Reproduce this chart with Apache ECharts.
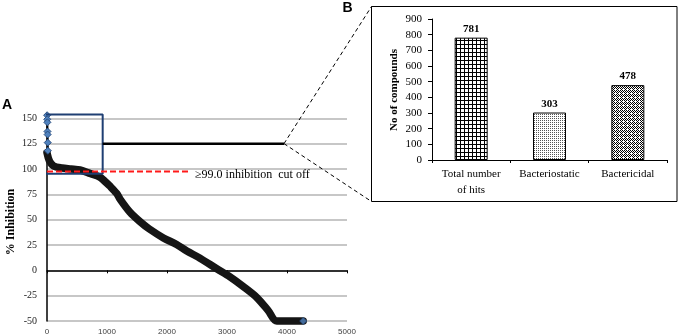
<!DOCTYPE html>
<html><head><meta charset="utf-8">
<script src="https://cdn.jsdelivr.net/npm/echarts@6/dist/echarts.min.js"></script>
<style>html,body{margin:0;padding:0;background:#fff}#c{width:680px;height:336px}</style>
</head><body><div id="c"></div>
<script>
// ---- Panel A data ----
const curveX = [0, 40, 110, 250, 400, 550, 720, 880, 960, 1050, 1160, 1220, 1380, 1550, 1700, 1940, 2160, 2330, 2550, 2830, 3050, 3270, 3500, 3690, 3830, 4270];
const curveY = [116, 108, 103, 101, 100, 99, 95.5, 92, 88, 83, 76, 70, 57.5, 48, 41, 32, 25.5, 19, 12, 1.5, -6.5, -16, -27, -40, -50, -50];
const outlierX = [2, 4, 6, 8, 10, 12, 14];
const outlierY = [153, 149, 146, 137, 134, 126, 118];
const lastPointX = [4270];
const lastPointY = [-50];
const cutoffX = [0, 2350];
const cutoffY = [97.5, 97.5];
const cutoffText = '≥99.0 inhibition  cut off';
const boxX = [-40, 928, 928, -40, -40];
const boxY = [153.8, 153.8, 95.2, 95.2, 153.8];
const connX = [928, 3950];
const connY = [125, 125];
// ---- Panel B data ----
const categories = ['Total number\nof hits', 'Bacteriostatic', 'Bactericidal'];
const counts = [781, 303, 478];

const zip = (a, b) => a.map((v, i) => [v, b[i]]);
const SERIF = '"Liberation Serif","Times New Roman",serif';
const SANS = '"Liberation Sans",Arial,sans-serif';

function pat(w, h, pts, col) {
  const c = document.createElement('canvas'); c.width = w; c.height = h;
  const g = c.getContext('2d'); g.fillStyle = '#fff'; g.fillRect(0, 0, w, h);
  g.fillStyle = col || '#000';
  pts.forEach(p => g.fillRect(p[0], p[1], p[2] || 1, p[3] || 1));
  return { image: c, repeat: 'repeat' };
}
const gridPat = pat(4, 4, [[0, 0, 4, 1], [0, 0, 1, 4]], '#000');
const lightPat = pat(2, 2, [[0, 0]], '#555');
const densePat = pat(4, 4, [[0,0],[2,0],[1,1],[0,2],[2,2],[3,3],[1,3]], '#000');
const patterns = [gridPat, lightPat, densePat];

const chart = echarts.init(document.getElementById('c'), null, { renderer: 'canvas' });
const option = {
  backgroundColor: '#fff',
  animation: false,
  grid: [
    { left: 47, right: 333, top: 118.3, bottom: 7.3 },
    { left: 432, right: 13, top: 19, bottom: 176 }
  ],
  xAxis: [
    { gridIndex: 0, type: 'value', min: 0, max: 5000, interval: 1000,
      axisLine: { onZero: true, lineStyle: { color: '#000', width: 1.5 } },
      axisTick: { show: true, length: 3, lineStyle: { color: '#000' } },
      axisLabel: { fontSize: 8, fontFamily: SANS, color: '#404040', margin: 7, formatter: v => String(v) },
      splitLine: { show: false } },
    { gridIndex: 1, type: 'category', data: categories,
      axisLine: { lineStyle: { color: '#000', width: 1 } },
      axisTick: { show: true, length: 3, lineStyle: { color: '#000' } },
      axisLabel: { interval: 0, fontSize: 11, fontFamily: SERIF, color: '#000', margin: 6, lineHeight: 16 } }
  ],
  yAxis: [
    { gridIndex: 0, type: 'value', min: -50, max: 150, interval: 25,
      axisLine: { show: true, onZero: false, lineStyle: { color: '#000', width: 1.5 } },
      axisTick: { show: false },
      axisLabel: { fontSize: 10, fontFamily: SERIF, color: '#222', margin: 10 },
      splitLine: { show: true, lineStyle: { color: '#b4b4b4', width: 1.5 } } },
    { gridIndex: 1, type: 'value', min: 0, max: 900, interval: 100,
      axisLine: { show: true, lineStyle: { color: '#000', width: 1 } },
      axisTick: { show: true, length: 4, lineStyle: { color: '#000' } },
      axisLabel: { fontSize: 11, fontFamily: SERIF, color: '#000', margin: 10 },
      splitLine: { show: false } }
  ],
  series: [
    { name: 'curve', type: 'line', xAxisIndex: 0, yAxisIndex: 0, data: zip(curveX, curveY),
      symbol: 'none', smooth: 0.3, clip: false, z: 3,
      lineStyle: { color: '#151515', width: 7.5, cap: 'round', join: 'round' } },
    { name: 'top', type: 'line', xAxisIndex: 0, yAxisIndex: 0, data: zip(outlierX, outlierY),
      symbol: 'diamond', symbolSize: 7, clip: false, z: 4,
      lineStyle: { color: '#000', width: 2 },
      itemStyle: { color: '#4f81bd', borderColor: '#2b4f80', borderWidth: 1 } },
    { name: 'last', type: 'scatter', xAxisIndex: 0, yAxisIndex: 0, data: zip(lastPointX, lastPointY),
      symbol: 'diamond', symbolSize: 7, clip: false, z: 4,
      itemStyle: { color: '#4f81bd', borderColor: '#2b4f80', borderWidth: 1 } },
    { name: 'box', type: 'line', xAxisIndex: 0, yAxisIndex: 0, data: zip(boxX, boxY),
      symbol: 'none', clip: false, z: 5,
      lineStyle: { color: '#1f3f73', width: 2 } },
    { name: 'conn', type: 'line', xAxisIndex: 0, yAxisIndex: 0, data: zip(connX, connY),
      symbol: 'none', clip: false, z: 5,
      lineStyle: { color: '#000', width: 2.5 } },
    { name: 'cutoff', type: 'line', xAxisIndex: 0, yAxisIndex: 0, data: zip(cutoffX, cutoffY),
      symbol: 'none', clip: false, z: 6,
      lineStyle: { color: '#ff1a1a', width: 2, type: [6, 3] },
      endLabel: { show: true, formatter: cutoffText, fontFamily: SERIF, fontSize: 12, color: '#000', distance: 7, offset: [0, 3] } },
    { name: 'hits', type: 'bar', xAxisIndex: 1, yAxisIndex: 1, barWidth: 33,
      data: counts.map((v, i) => ({ value: v, itemStyle: { color: patterns[i] } })),
      itemStyle: { borderColor: '#000', borderWidth: 1 },
      label: { show: true, position: 'top', distance: 3, fontFamily: SERIF, fontSize: 11, fontWeight: 'bold', color: '#000' } }
  ],
  graphic: [
    { id: 'labA', type: 'text', x: 7, y: 105.5, style: { text: 'A', font: 'bold 14px ' + SANS, fill: '#000', align: 'center', verticalAlign: 'middle' } },
    { id: 'labB', type: 'text', x: 347.5, y: 8.5, style: { text: 'B', font: 'bold 14px ' + SANS, fill: '#000', align: 'center', verticalAlign: 'middle' } },
    { id: 'nameA', type: 'text', x: 11, y: 222, rotation: Math.PI / 2, style: { text: '% Inhibition', font: 'bold 12px ' + SERIF, fill: '#000', align: 'center', verticalAlign: 'middle' } },
    { id: 'nameB', type: 'text', x: 394, y: 90, rotation: Math.PI / 2, style: { text: 'No of compounds', font: 'bold 11px ' + SERIF, fill: '#000', align: 'center', verticalAlign: 'middle' } },
    { id: 'insetBox', type: 'rect', shape: { x: 371.5, y: 6.5, width: 305.5, height: 195 }, style: { fill: 'none', stroke: '#000', lineWidth: 1 }, z: 10 }
  ]
};
chart.setOption(option);
const p = chart.convertToPixel({ gridIndex: 0 }, [connX[1], connY[1]]);
chart.setOption({ graphic: [
  { id: 'dashUp', type: 'line', shape: { x1: p[0], y1: p[1], x2: 371.5, y2: 6.5 }, style: { stroke: '#000', lineWidth: 1, lineDash: [4, 3] }, z: 10 },
  { id: 'dashDown', type: 'line', shape: { x1: p[0], y1: p[1], x2: 371.5, y2: 201.5 }, style: { stroke: '#000', lineWidth: 1, lineDash: [4, 3] }, z: 10 }
] });
</script>
</body></html>
